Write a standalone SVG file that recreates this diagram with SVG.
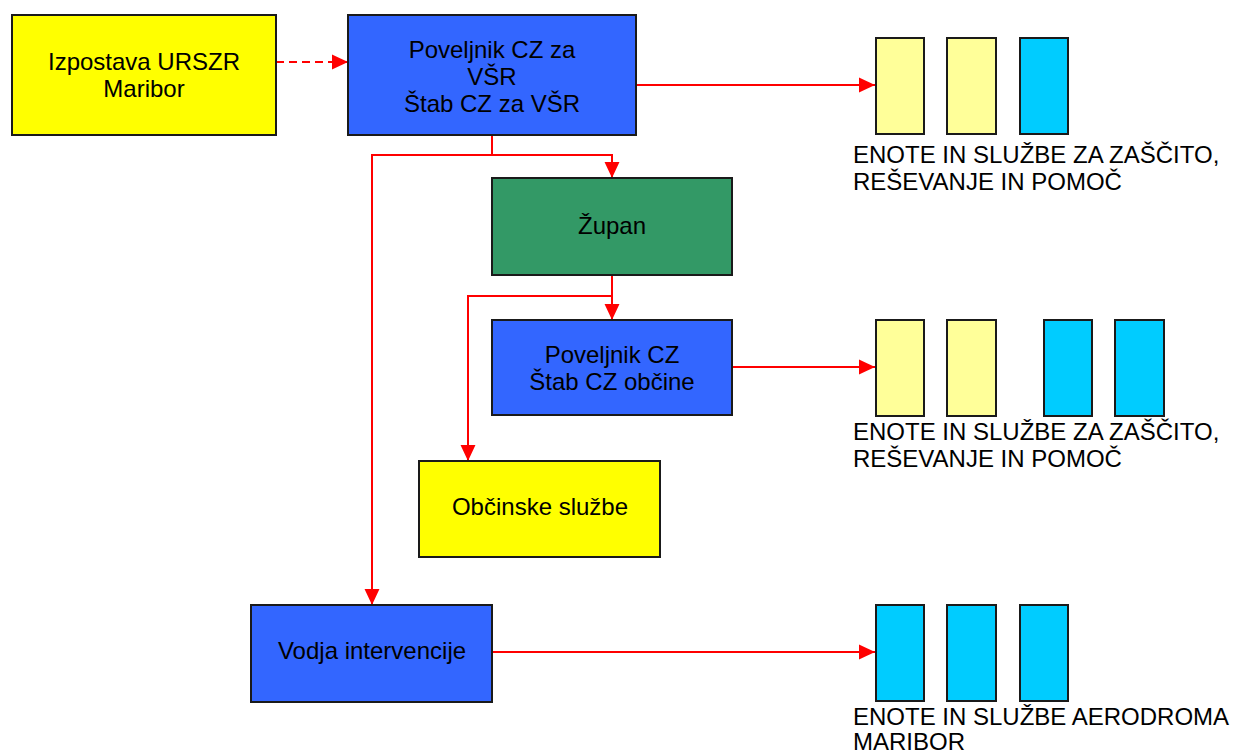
<svg xmlns="http://www.w3.org/2000/svg" width="1233" height="753" viewBox="0 0 1233 753">
<defs>
<marker id="ah" markerUnits="userSpaceOnUse" markerWidth="16" markerHeight="16" viewBox="0 0 15 14" refX="15" refY="7" orient="auto">
<path d="M0 0 L15 7 L0 14 Z" fill="#FF0000"/>
</marker>
<style>
.box{stroke:#1a1a1a;stroke-width:2}
.t{font-family:"Liberation Sans",Arial,sans-serif;font-size:24px;fill:#000}
.c{text-anchor:middle}
.con{fill:none;stroke:#FF0000;stroke-width:2}
.y{fill:#FFFF00}.b{fill:#3366FF}.g{fill:#339966}.ly{fill:#FFFF99}.cy{fill:#00CCFF}
</style>
</defs>
<rect width="1233" height="753" fill="#FFFFFF"/>
<g id="connectors">
<path class="con" d="M276 62 H348" stroke-dasharray="8 5" marker-end="url(#ah)"/>
<path class="con" d="M636 85 H875" marker-end="url(#ah)"/>
<path class="con" d="M492 135 V155 H612 V178" marker-end="url(#ah)"/>
<path class="con" d="M492 155 H372 V605" marker-end="url(#ah)"/>
<path class="con" d="M612 275 V320" marker-end="url(#ah)"/>
<path class="con" d="M612 296 H468 V461" marker-end="url(#ah)"/>
<path class="con" d="M732 367 H875" marker-end="url(#ah)"/>
<path class="con" d="M492 652 H875" marker-end="url(#ah)"/>
</g>
<g id="izpostava">
<rect class="box y" x="12" y="15" width="264" height="120"/>
<text class="t c" x="144" y="70">Izpostava URSZR</text>
<text class="t c" x="144" y="97">Maribor</text>
</g>
<g id="poveljnik-vsr">
<rect class="box b" x="348" y="15" width="288" height="120"/>
<text class="t c" x="492" y="58">Poveljnik CZ za</text>
<text class="t c" x="492" y="85">VŠR</text>
<text class="t c" x="492" y="112">Štab CZ za VŠR</text>
</g>
<g id="zupan">
<rect class="box g" x="492" y="178" width="240" height="97"/>
<text class="t c" x="612" y="234">Župan</text>
</g>
<g id="poveljnik-obcine">
<rect class="box b" x="492" y="320" width="240" height="95"/>
<text class="t c" x="612" y="363">Poveljnik CZ</text>
<text class="t c" x="612" y="390">Štab CZ občine</text>
</g>
<g id="obcinske-sluzbe">
<rect class="box y" x="419" y="461" width="241" height="96"/>
<text class="t c" x="540" y="515">Občinske službe</text>
</g>
<g id="vodja">
<rect class="box b" x="251" y="605" width="241" height="97"/>
<text class="t c" x="372" y="659">Vodja intervencije</text>
</g>
<g id="enote-vsr">
<rect class="box ly" x="876" y="38" width="48" height="96"/>
<rect class="box ly" x="947" y="38" width="49" height="96"/>
<rect class="box cy" x="1020" y="38" width="48" height="96"/>
<text class="t" x="853" y="163">ENOTE IN SLUŽBE ZA ZAŠČITO,</text>
<text class="t" x="853" y="190">REŠEVANJE IN POMOČ</text>
</g>
<g id="enote-obcine">
<rect class="box ly" x="876" y="320" width="48" height="96"/>
<rect class="box ly" x="947" y="320" width="49" height="96"/>
<rect class="box cy" x="1044" y="320" width="48" height="96"/>
<rect class="box cy" x="1115" y="320" width="49" height="96"/>
<text class="t" x="853" y="440">ENOTE IN SLUŽBE ZA ZAŠČITO,</text>
<text class="t" x="853" y="467">REŠEVANJE IN POMOČ</text>
</g>
<g id="enote-aerodroma">
<rect class="box cy" x="876" y="605" width="48" height="96"/>
<rect class="box cy" x="947" y="605" width="49" height="96"/>
<rect class="box cy" x="1020" y="605" width="48" height="96"/>
<text class="t" x="853" y="725">ENOTE IN SLUŽBE AERODROMA</text>
<text class="t" x="853" y="750">MARIBOR</text>
</g>
</svg>
